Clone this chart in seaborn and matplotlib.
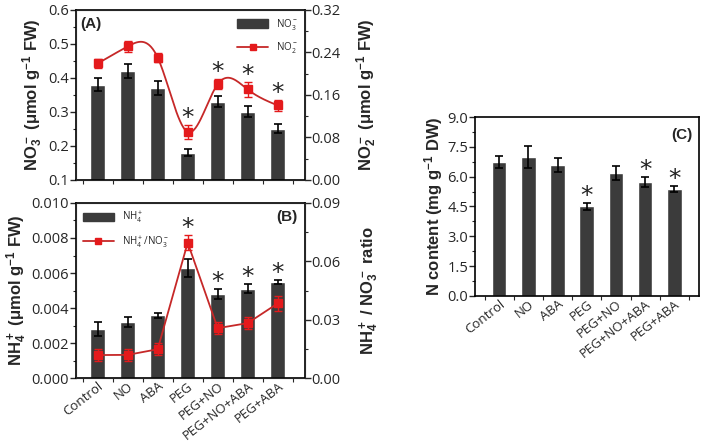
import numpy as np
import pandas as pd
import matplotlib.pyplot as plt
import seaborn as sns
from matplotlib.ticker import MultipleLocator, FixedLocator
from matplotlib.patches import Patch
from matplotlib.lines import Line2D

groups = ['Control', 'NO', 'ABA', 'PEG', 'PEG+NO', 'PEG+NO+ABA', 'PEG+ABA']

# panel A
no3 = [0.38, 0.42, 0.37, 0.18, 0.33, 0.30, 0.25]
no3_err = [0.02, 0.022, 0.02, 0.01, 0.017, 0.016, 0.013]
no2 = [0.219, 0.251, 0.230, 0.090, 0.180, 0.170, 0.140]
no2_err = [0.008, 0.010, 0.008, 0.014, 0.010, 0.014, 0.010]
sig_a = [3, 4, 5, 6]

# panel B
nh4 = [0.0028, 0.0032, 0.0036, 0.0063, 0.0048, 0.0051, 0.0055]
nh4_err = [0.0004, 0.0003, 0.00015, 0.0005, 0.0003, 0.00025, 0.0001]
ratio = [0.0119, 0.0120, 0.0149, 0.0696, 0.0257, 0.0283, 0.0384]
ratio_err = [0.003, 0.003, 0.003, 0.004, 0.003, 0.003, 0.004]
sig_b = [3, 4, 5, 6]

# panel C
ncont = [6.75, 7.0, 6.6, 4.5, 6.2, 5.75, 5.4]
ncont_err = [0.3, 0.55, 0.35, 0.2, 0.35, 0.25, 0.15]
sig_c = [3, 5, 6]

BAR = '#3b3b3b'
RED = '#e41a1c'
LRED = '#c62828'

sns.set_style('ticks')
plt.rcParams['font.family'] = ['Open Sans', 'DejaVu Sans']
plt.rcParams['mathtext.fontset'] = 'custom'
plt.rcParams['mathtext.rm'] = 'Liberation Sans'
plt.rcParams['mathtext.bf'] = 'Liberation Sans:bold'
plt.rcParams['mathtext.default'] = 'regular'

lab_font = dict(family='Liberation Sans', fontweight='bold', fontsize=12)
tick_col = '#262626'


def smooth(x, y, num=200):
    # natural cubic spline, used only to draw the connecting curve
    x = np.asarray(x, float)
    y = np.asarray(y, float)
    n = len(x)
    h = np.diff(x)
    A = np.zeros((n, n))
    b = np.zeros(n)
    A[0, 0] = A[-1, -1] = 1
    for i in range(1, n - 1):
        A[i, i - 1] = h[i - 1]
        A[i, i] = 2 * (h[i - 1] + h[i])
        A[i, i + 1] = h[i]
        b[i] = 6 * ((y[i + 1] - y[i]) / h[i] - (y[i] - y[i - 1]) / h[i - 1])
    M = np.linalg.solve(A, b)
    xs = np.linspace(x[0], x[-1], num)
    k = np.clip(np.searchsorted(x, xs) - 1, 0, n - 2)
    hk = h[k]
    a = x[k + 1] - xs
    c = xs - x[k]
    ys = (M[k] * a ** 3 + M[k + 1] * c ** 3) / (6 * hk) \
        + (y[k] / hk - M[k] * hk / 6) * a + (y[k + 1] / hk - M[k + 1] * hk / 6) * c
    return xs, ys


def style_axis(ax, xlim, show_xlabels):
    ax.set_xlim(*xlim)
    for s in ax.spines.values():
        s.set_visible(True)
        s.set_linewidth(1.2)
        s.set_color('black')
    ax.tick_params(axis='y', which='major', direction='out', length=4, width=1,
                   labelsize=10.5, labelcolor=tick_col, pad=1)
    ax.tick_params(axis='y', which='minor', direction='out', length=2, width=0.8)
    ax.xaxis.set_major_locator(FixedLocator(range(len(groups))))
    ax.xaxis.set_minor_locator(FixedLocator(np.arange(len(groups) + 1) - 0.5))
    ax.tick_params(axis='x', which='major', length=0, labelsize=9.5,
                   labelcolor=tick_col, pad=1)
    ax.tick_params(axis='x', which='minor', direction='out', length=3, width=0.8)
    ax.set_xlabel('')
    if show_xlabels:
        ax.set_xticklabels(groups, rotation=38, ha='right', rotation_mode='anchor')
    else:
        ax.set_xticklabels([])


def star(ax, x, y):
    ax.annotate('*', (x, y), xytext=(0, 0), textcoords='offset points',
                ha='center', va='baseline', fontsize=18, color='#222222',
                family='DejaVu Sans')


fig = plt.figure(figsize=(7.02, 4.45), dpi=100)
x = np.arange(len(groups))

# ---------- (A)
axA = fig.add_axes([0.108, 0.596, 0.326, 0.382])
sns.barplot(x=groups, y=no3, color=BAR, saturation=1, width=0.5, ax=axA)
axA.errorbar(x, no3, yerr=no3_err, fmt='none', ecolor='black', capsize=3,
             elinewidth=1.2, capthick=1.2)
axA.set_ylim(0.1, 0.6)
axA.yaxis.set_major_locator(MultipleLocator(0.1))
axA.yaxis.set_minor_locator(MultipleLocator(0.05))
style_axis(axA, (-0.73, 6.9), False)
axA.set_ylabel('NO$_3^-$ (μmol g$^{-1}$ FW)', **lab_font, labelpad=2)

axA2 = axA.twinx()
xs, ys = smooth(x, no2)
axA2.plot(xs, ys, color=LRED, lw=1.3)
axA2.errorbar(x, no2, yerr=no2_err, fmt='s', color=RED, ms=6, ecolor=RED,
              capsize=3, elinewidth=1, capthick=1)
axA2.set_ylim(0, 0.32)
axA2.yaxis.set_major_locator(MultipleLocator(0.08))
axA2.yaxis.set_minor_locator(MultipleLocator(0.04))
axA2.tick_params(axis='y', which='major', direction='out', length=4, width=1,
                 labelsize=10.5, labelcolor=tick_col, pad=1)
axA2.tick_params(axis='y', which='minor', direction='out', length=2, width=0.8)
axA2.yaxis.set_major_formatter(plt.FuncFormatter(lambda v, p: f'{v:.2f}'))
axA2.set_ylabel('NO$_2^-$ (μmol g$^{-1}$ FW)', **lab_font, labelpad=10)
for i in sig_a:
    star(axA2, i, no2[i] + no2_err[i])
axA.text(0.02, 0.96, '(A)', transform=axA.transAxes, ha='left', va='top',
         family='Liberation Sans', fontweight='bold', fontsize=11)
axA2.legend([Patch(color=BAR), Line2D([], [], color=LRED, marker='s', ms=5,
                                      mfc=RED, mec=RED, lw=1.3)],
            ['NO$_3^-$', 'NO$_2^-$'], loc='upper right', frameon=False,
            fontsize=7, handlelength=3.2, handleheight=1.0, borderaxespad=0.3,
            labelspacing=0.9)

# ---------- (B)
axB = fig.add_axes([0.108, 0.150, 0.326, 0.394])
sns.barplot(x=groups, y=nh4, color=BAR, saturation=1, width=0.5, ax=axB)
axB.errorbar(x, nh4, yerr=nh4_err, fmt='none', ecolor='black', capsize=3,
             elinewidth=1.2, capthick=1.2)
axB.set_ylim(0, 0.010)
axB.yaxis.set_major_locator(MultipleLocator(0.002))
axB.yaxis.set_minor_locator(MultipleLocator(0.001))
axB.yaxis.set_major_formatter(plt.FuncFormatter(lambda v, p: f'{v:.3f}'))
style_axis(axB, (-0.73, 6.9), True)
axB.set_ylabel('NH$_4^+$ (μmol g$^{-1}$ FW)', **lab_font, labelpad=2)

axB2 = axB.twinx()
axB2.plot(x, ratio, color=LRED, lw=1.3)
axB2.errorbar(x, ratio, yerr=ratio_err, fmt='s', color=RED, ms=6, ecolor=RED,
              capsize=3, elinewidth=1, capthick=1)
axB2.set_ylim(0, 0.09)
axB2.yaxis.set_major_locator(MultipleLocator(0.03))
axB2.yaxis.set_minor_locator(MultipleLocator(0.015))
axB2.tick_params(axis='y', which='major', direction='out', length=4, width=1,
                 labelsize=10.5, labelcolor=tick_col, pad=1)
axB2.tick_params(axis='y', which='minor', direction='out', length=2, width=0.8)
axB2.yaxis.set_major_formatter(plt.FuncFormatter(lambda v, p: f'{v:.2f}'))
axB2.set_ylabel('NH$_4^+$ / NO$_3^-$ ratio', **lab_font, labelpad=12)
for i in sig_b:
    top = max(nh4[i] + nh4_err[i], (ratio[i] + ratio_err[i]) / 0.09 * 0.010)
    star(axB, i, top)
axB.text(0.97, 0.96, '(B)', transform=axB.transAxes, ha='right', va='top',
         family='Liberation Sans', fontweight='bold', fontsize=11)
axB2.legend([Patch(color=BAR), Line2D([], [], color=LRED, marker='s', ms=5,
                                      mfc=RED, mec=RED, lw=1.3)],
            ['NH$_4^+$', 'NH$_4^+$/NO$_3^-$'], loc='upper left', frameon=False,
            fontsize=7, handlelength=3.2, handleheight=1.0, borderaxespad=0.3,
            labelspacing=0.9)

# ---------- (C)
axC = fig.add_axes([0.677, 0.335, 0.319, 0.402])
sns.barplot(x=groups, y=ncont, color=BAR, saturation=1, width=0.5, ax=axC)
axC.errorbar(x, ncont, yerr=ncont_err, fmt='none', ecolor='black', capsize=3,
             elinewidth=1.2, capthick=1.2)
axC.set_ylim(0, 9)
axC.yaxis.set_major_locator(MultipleLocator(1.5))
axC.yaxis.set_minor_locator(MultipleLocator(0.75))
axC.yaxis.set_major_formatter(plt.FuncFormatter(lambda v, p: f'{v:.1f}'))
style_axis(axC, (-0.82, 6.85), True)
axC.set_ylabel('N content (mg g$^{-1}$ DW)', **lab_font, labelpad=2)
for i in sig_c:
    star(axC, i, ncont[i] + ncont_err[i])
axC.text(0.97, 0.94, '(C)', transform=axC.transAxes, ha='right', va='top',
         family='Liberation Sans', fontweight='bold', fontsize=11)

fig.savefig('out.png', dpi=100)
